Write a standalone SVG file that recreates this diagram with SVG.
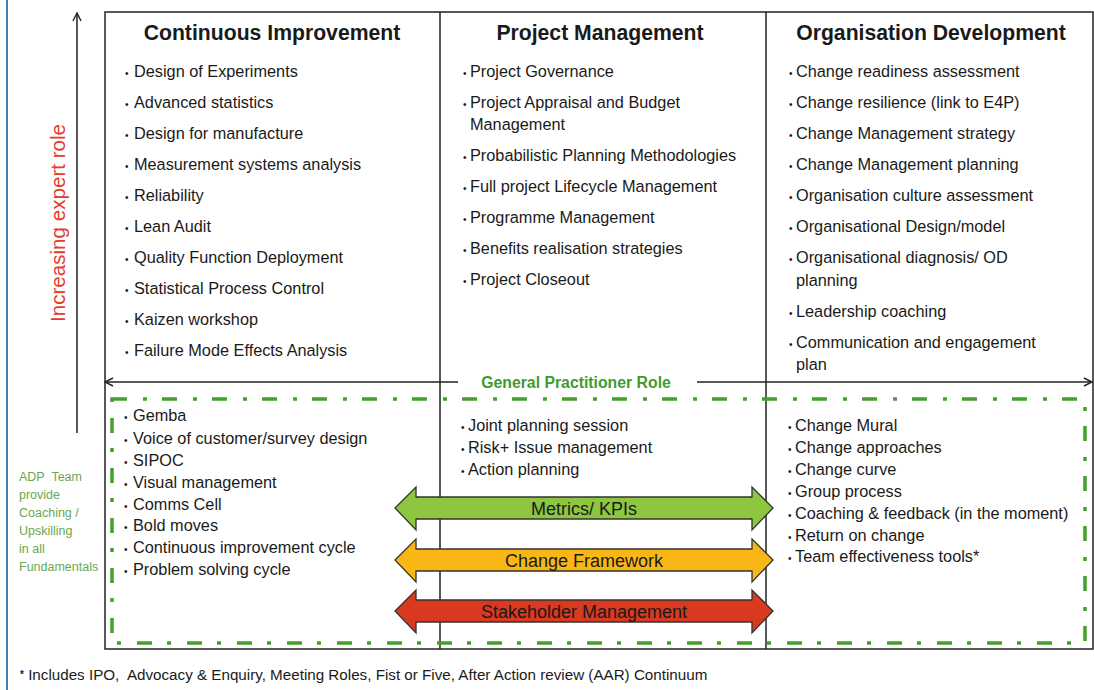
<svg xmlns="http://www.w3.org/2000/svg" width="1094" height="690" viewBox="0 0 1094 690">
<defs>
<style>
text{font-family:"Liberation Sans",Arial,sans-serif;fill:#1a1a1a}
.h{font-size:21.2px;font-weight:bold;text-anchor:middle}
.i{font-size:16.3px}
.s{font-size:16.3px}
.b{font-size:10px}
.g{fill:#6aa84f;font-size:12.5px}
.gp{fill:#3f9b2f;font-size:15.8px;font-weight:bold;text-anchor:middle}
.ln{stroke:#222;stroke-width:1.5;fill:none}
.dash{stroke:#43a02c;stroke-width:3.5;fill:none;stroke-dasharray:15 16 4 15}
.arr{stroke:#333;stroke-width:1.3}
.al{font-size:18px;text-anchor:middle}
</style>
<marker id="open" viewBox="0 0 10 10" refX="9" refY="5" markerWidth="10" markerHeight="10" markerUnits="userSpaceOnUse" orient="auto-start-reverse">
<path d="M1,1 L9,5 L1,9" fill="none" stroke="#222" stroke-width="1.4"/>
</marker>
</defs>
<rect width="1094" height="690" fill="#fff"/>
<line x1="7" y1="0" x2="7" y2="690" stroke="#3b82b4" stroke-width="2"/>

<g id="connectors">
<line class="ln" x1="77" y1="433" x2="77" y2="13" marker-end="url(#open)"/>
<line class="ln" x1="458" y1="382" x2="105" y2="382" marker-end="url(#open)"/>
<line class="ln" x1="697" y1="382" x2="1092" y2="382" marker-end="url(#open)"/>
</g>

<g id="frame">
<polyline class="ln" points="105,382 105,12 1093,12 1093,382"/>
<polyline class="ln" points="105,382 105,649 1093,649 1093,382"/>
<line class="ln" x1="440" y1="12" x2="440" y2="649"/>
<line class="ln" x1="766" y1="12" x2="766" y2="649"/>
<rect class="dash" x="112" y="399" width="973" height="244"/>
</g>

<g id="expert-role">
<text transform="translate(65,223) rotate(-90)" style="font-size:20.6px;fill:#e63a2c;text-anchor:middle">Increasing expert role</text>
</g>

<g id="adp-team">
<text class="g" x="19" y="481">ADP&#160; Team</text>
<text class="g" x="19" y="499">provide</text>
<text class="g" x="19" y="517">Coaching /</text>
<text class="g" x="19" y="535">Upskilling</text>
<text class="g" x="19" y="553">in all</text>
<text class="g" x="19" y="571">Fundamentals</text>
</g>

<g id="continuous-improvement">
<text class="h" x="272" y="40">Continuous Improvement</text>
<text class="i" y="77"><tspan class="b" x="125">•</tspan><tspan x="134">Design of Experiments</tspan></text>
<text class="i" y="108"><tspan class="b" x="125">•</tspan><tspan x="134">Advanced statistics</tspan></text>
<text class="i" y="139"><tspan class="b" x="125">•</tspan><tspan x="134">Design for manufacture</tspan></text>
<text class="i" y="170"><tspan class="b" x="125">•</tspan><tspan x="134">Measurement systems analysis</tspan></text>
<text class="i" y="201"><tspan class="b" x="125">•</tspan><tspan x="134">Reliability</tspan></text>
<text class="i" y="232"><tspan class="b" x="125">•</tspan><tspan x="134">Lean Audit</tspan></text>
<text class="i" y="263"><tspan class="b" x="125">•</tspan><tspan x="134">Quality Function Deployment</tspan></text>
<text class="i" y="294"><tspan class="b" x="125">•</tspan><tspan x="134">Statistical Process Control</tspan></text>
<text class="i" y="325"><tspan class="b" x="125">•</tspan><tspan x="134">Kaizen workshop</tspan></text>
<text class="i" y="356"><tspan class="b" x="125">•</tspan><tspan x="134">Failure Mode Effects Analysis</tspan></text>
</g>

<g id="project-management">
<text class="h" x="600" y="40">Project Management</text>
<text class="i" y="77"><tspan class="b" x="463">•</tspan><tspan x="470">Project Governance</tspan></text>
<text class="i" y="108"><tspan class="b" x="463">•</tspan><tspan x="470">Project Appraisal and Budget</tspan></text>
<text class="i" y="130"><tspan x="470">Management</tspan></text>
<text class="i" y="161"><tspan class="b" x="463">•</tspan><tspan x="470">Probabilistic Planning Methodologies</tspan></text>
<text class="i" y="192"><tspan class="b" x="463">•</tspan><tspan x="470">Full project Lifecycle Management</tspan></text>
<text class="i" y="223"><tspan class="b" x="463">•</tspan><tspan x="470">Programme Management</tspan></text>
<text class="i" y="254"><tspan class="b" x="463">•</tspan><tspan x="470">Benefits realisation strategies</tspan></text>
<text class="i" y="285"><tspan class="b" x="463">•</tspan><tspan x="470">Project Closeout</tspan></text>
</g>

<g id="organisation-development">
<text class="h" x="931" y="40">Organisation Development</text>
<text class="i" y="77"><tspan class="b" x="789">•</tspan><tspan x="796">Change readiness assessment</tspan></text>
<text class="i" y="108"><tspan class="b" x="789">•</tspan><tspan x="796">Change resilience (link to E4P)</tspan></text>
<text class="i" y="139"><tspan class="b" x="789">•</tspan><tspan x="796">Change Management strategy</tspan></text>
<text class="i" y="170"><tspan class="b" x="789">•</tspan><tspan x="796">Change Management planning</tspan></text>
<text class="i" y="201"><tspan class="b" x="789">•</tspan><tspan x="796">Organisation culture assessment</tspan></text>
<text class="i" y="232"><tspan class="b" x="789">•</tspan><tspan x="796">Organisational Design/model</tspan></text>
<text class="i" y="263"><tspan class="b" x="789">•</tspan><tspan x="796">Organisational diagnosis/ OD</tspan></text>
<text class="i" y="286"><tspan x="796">planning</tspan></text>
<text class="i" y="317"><tspan class="b" x="789">•</tspan><tspan x="796">Leadership coaching</tspan></text>
<text class="i" y="348"><tspan class="b" x="789">•</tspan><tspan x="796">Communication and engagement</tspan></text>
<text class="i" y="370"><tspan x="796">plan</tspan></text>
</g>

<g id="general-practitioner">
<text class="gp" x="576" y="388">General Practitioner Role</text>
</g>

<g id="ci-fundamentals">
<text class="s" y="421"><tspan class="b" x="124">•</tspan><tspan x="133">Gemba</tspan></text>
<text class="s" y="444"><tspan class="b" x="124">•</tspan><tspan x="133">Voice of customer/survey design</tspan></text>
<text class="s" y="466"><tspan class="b" x="124">•</tspan><tspan x="133">SIPOC</tspan></text>
<text class="s" y="488"><tspan class="b" x="124">•</tspan><tspan x="133">Visual management</tspan></text>
<text class="s" y="510"><tspan class="b" x="124">•</tspan><tspan x="133">Comms Cell</tspan></text>
<text class="s" y="531"><tspan class="b" x="124">•</tspan><tspan x="133">Bold moves</tspan></text>
<text class="s" y="553"><tspan class="b" x="124">•</tspan><tspan x="133">Continuous improvement cycle</tspan></text>
<text class="s" y="575"><tspan class="b" x="124">•</tspan><tspan x="133">Problem solving cycle</tspan></text>
</g>

<g id="pm-fundamentals">
<text class="s" y="431"><tspan class="b" x="461">•</tspan><tspan x="468">Joint planning session</tspan></text>
<text class="s" y="453"><tspan class="b" x="461">•</tspan><tspan x="468">Risk+ Issue management</tspan></text>
<text class="s" y="475"><tspan class="b" x="461">•</tspan><tspan x="468">Action planning</tspan></text>
</g>

<g id="od-fundamentals">
<text class="s" y="431"><tspan class="b" x="788">•</tspan><tspan x="795">Change Mural</tspan></text>
<text class="s" y="453"><tspan class="b" x="788">•</tspan><tspan x="795">Change approaches</tspan></text>
<text class="s" y="475"><tspan class="b" x="788">•</tspan><tspan x="795">Change curve</tspan></text>
<text class="s" y="497"><tspan class="b" x="788">•</tspan><tspan x="795">Group process</tspan></text>
<text class="s" y="519"><tspan class="b" x="788">•</tspan><tspan x="795">Coaching &amp; feedback (in the moment)</tspan></text>
<text class="s" y="541"><tspan class="b" x="788">•</tspan><tspan x="795">Return on change</tspan></text>
<text class="s" y="562"><tspan class="b" x="788">•</tspan><tspan x="795">Team effectiveness tools*</tspan></text>
</g>

<g id="metrics-kpis">
<path class="arr" fill="#8dc63f" d="M395,508 L416,487 L416,497 L752,497 L752,487 L773,508 L752,530 L752,519 L416,519 L416,530 Z"/>
<text class="al" x="584" y="514.5">Metrics/ KPIs</text>
</g>
<g id="change-framework">
<path class="arr" fill="#f9b715" d="M395,560 L416,539 L416,549 L752,549 L752,539 L773,560 L752,582 L752,571 L416,571 L416,582 Z"/>
<text class="al" x="584" y="566.5">Change Framework</text>
</g>
<g id="stakeholder-management">
<path class="arr" fill="#d8391f" d="M395,611 L416,590 L416,600 L752,600 L752,590 L773,611 L752,633 L752,622 L416,622 L416,633 Z"/>
<text class="al" x="584" y="617.5">Stakeholder Management</text>
</g>

<g id="footnote">
<text x="20" y="680" style="font-size:15.2px"><tspan style="font-size:10px;font-weight:bold" dy="-2">*</tspan><tspan dy="2">&#160;Includes IPO,&#160; Advocacy &amp; Enquiry, Meeting Roles, Fist or Five, After Action review (AAR) Continuum</tspan></text>
</g>
</svg>
